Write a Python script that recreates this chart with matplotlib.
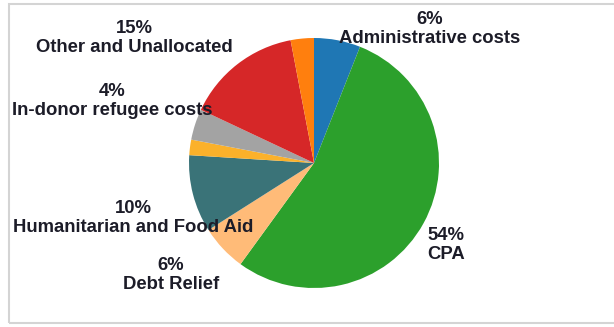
import matplotlib.pyplot as plt
from matplotlib.patches import Rectangle

# ODA breakdown, clockwise from the top
categories = ['Administrative costs', 'CPA', 'Debt Relief', 'Humanitarian and Food Aid',
              'Other humanitarian', 'In-donor refugee costs', 'Other and Unallocated', 'Other']
shares = [6, 54, 6, 10, 2, 4, 15, 3]
colors = ['#1f77b4', '#2ca02c', '#ffbb78', '#3a7378', '#fbb12a', '#a3a3a3', '#d62728', '#ff7f0e']

# only the named slices get a label: (index, x, y) in pixel coordinates
label_slots = [(0, 430, 29), (1, 446, 245), (2, 171, 275), (3, 133, 218),
               (5, 112, 101), (6, 134, 38)]

W, H = 614, 327
fig = plt.figure(figsize=(W / 100, H / 100), dpi=100)
ax = fig.add_axes([0, 0, 1, 1])

ax.pie(shares, colors=colors, startangle=90, counterclock=False,
       center=(314, H - 163), radius=125,
       wedgeprops={'linewidth': 0})

for i, x, y in label_slots:
    ax.text(x, H - y, f'{shares[i]}%\n{categories[i]}', ha='center', va='center',
            multialignment='center', fontsize=13.3, fontweight='bold',
            family='Liberation Sans', color='#1c1c28', linespacing=1.1)

ax.set_xlim(0, W)
ax.set_ylim(0, H)
ax.set_aspect('equal')
ax.axis('off')

# thin grey frame, open on the right edge
fig.patches.append(Rectangle((9 / W, 4 / H), 620 / W, 319 / H, transform=fig.transFigure,
                             fill=False, edgecolor='#d4d4d4', linewidth=1.5))

fig.savefig('out.png', dpi=100, facecolor='white')
